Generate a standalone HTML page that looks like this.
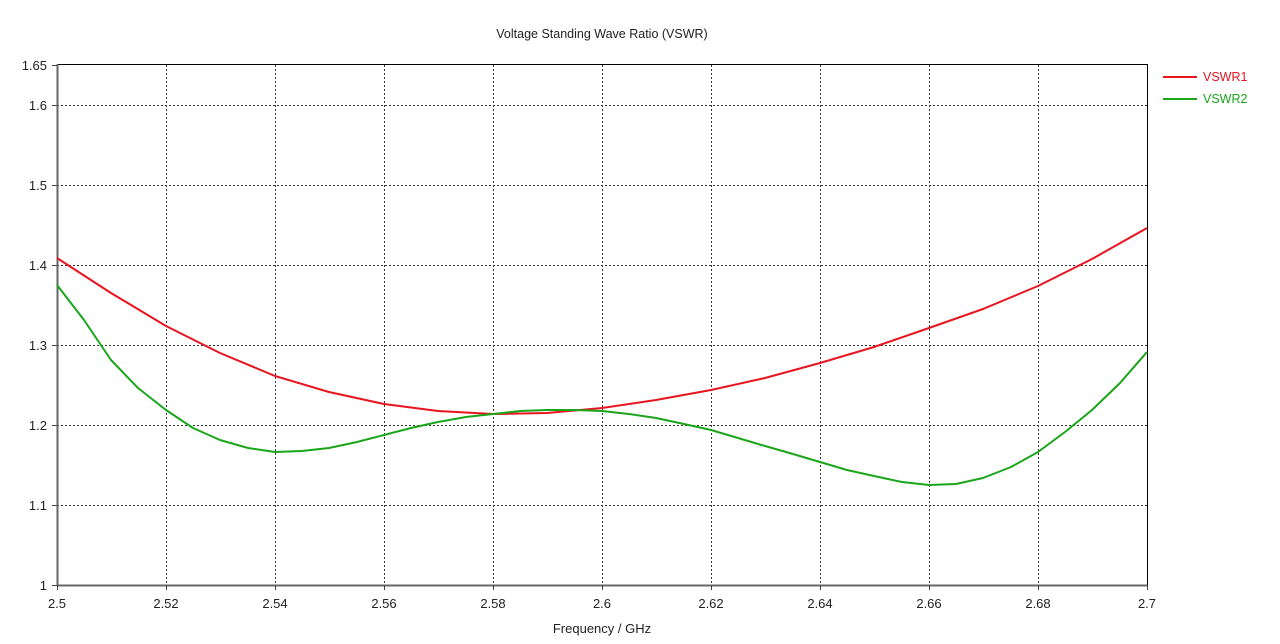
<!DOCTYPE html>
<html><head><meta charset="utf-8"><style>
body{margin:0;background:#fff;}
svg{display:block;font-family:"Liberation Sans","DejaVu Sans",sans-serif;}
</style></head><body>
<svg width="1280" height="644" viewBox="0 0 1280 644" xmlns="http://www.w3.org/2000/svg">
<rect width="1280" height="644" fill="#fff"/>
<text x="602" y="38" font-size="12.5" text-anchor="middle" fill="#222">Voltage Standing Wave Ratio (VSWR)</text>
<g stroke="#333" stroke-width="1" stroke-dasharray="2,2">
<line x1="166.5" y1="65" x2="166.5" y2="585"/><line x1="275.5" y1="65" x2="275.5" y2="585"/>
<line x1="384.5" y1="65" x2="384.5" y2="585"/><line x1="493.5" y1="65" x2="493.5" y2="585"/>
<line x1="602.5" y1="65" x2="602.5" y2="585"/><line x1="711.5" y1="65" x2="711.5" y2="585"/>
<line x1="820.5" y1="65" x2="820.5" y2="585"/><line x1="929.5" y1="65" x2="929.5" y2="585"/>
<line x1="1038.5" y1="65" x2="1038.5" y2="585"/>
<line x1="57" y1="105.5" x2="1147" y2="105.5"/><line x1="57" y1="185.5" x2="1147" y2="185.5"/>
<line x1="57" y1="265.5" x2="1147" y2="265.5"/><line x1="57" y1="345.5" x2="1147" y2="345.5"/>
<line x1="57" y1="425.5" x2="1147" y2="425.5"/><line x1="57" y1="505.5" x2="1147" y2="505.5"/>
</g>
<rect x="57.5" y="64.5" width="1090" height="521" fill="none" stroke="#000" stroke-width="1"/>
<line x1="57.5" y1="64" x2="57.5" y2="586" stroke="#666" stroke-width="2"/>
<line x1="57" y1="585.5" x2="1147" y2="585.5" stroke="#666" stroke-width="2"/>
<g stroke="#444" stroke-width="1">
<line x1="52" y1="65.5" x2="57" y2="65.5"/><line x1="52" y1="105.5" x2="57" y2="105.5"/><line x1="52" y1="185.5" x2="57" y2="185.5"/>
<line x1="52" y1="265.5" x2="57" y2="265.5"/><line x1="52" y1="345.5" x2="57" y2="345.5"/><line x1="52" y1="425.5" x2="57" y2="425.5"/>
<line x1="52" y1="505.5" x2="57" y2="505.5"/><line x1="52" y1="585.5" x2="57" y2="585.5"/>
<line x1="57.5" y1="585" x2="57.5" y2="590"/><line x1="166.5" y1="585" x2="166.5" y2="590"/><line x1="275.5" y1="585" x2="275.5" y2="590"/>
<line x1="384.5" y1="585" x2="384.5" y2="590"/><line x1="493.5" y1="585" x2="493.5" y2="590"/><line x1="602.5" y1="585" x2="602.5" y2="590"/>
<line x1="711.5" y1="585" x2="711.5" y2="590"/><line x1="820.5" y1="585" x2="820.5" y2="590"/><line x1="929.5" y1="585" x2="929.5" y2="590"/>
<line x1="1038.5" y1="585" x2="1038.5" y2="590"/><line x1="1147.5" y1="585" x2="1147.5" y2="590"/>
</g>
<g font-size="13" fill="#222" text-anchor="end">
<text x="47" y="70">1.65</text><text x="47" y="110">1.6</text><text x="47" y="190">1.5</text>
<text x="47" y="270">1.4</text><text x="47" y="350">1.3</text><text x="47" y="430">1.2</text>
<text x="47" y="510">1.1</text><text x="47" y="590">1</text>
</g>
<g font-size="13" fill="#222" text-anchor="middle">
<text x="57" y="608">2.5</text><text x="166" y="608">2.52</text><text x="275" y="608">2.54</text>
<text x="384" y="608">2.56</text><text x="493" y="608">2.58</text><text x="602" y="608">2.6</text>
<text x="711" y="608">2.62</text><text x="820" y="608">2.64</text><text x="929" y="608">2.66</text>
<text x="1038" y="608">2.68</text><text x="1147" y="608">2.7</text>
<text x="602" y="633">Frequency / GHz</text>
</g>
<polyline fill="none" stroke="#e8141e" stroke-width="2" stroke-linejoin="round" points="57,258 111,293 166,326 220,353 275,376 329,392 384,404 438,411 493,414 547,413 602,408 656,400 711,390 765,378 820,363 874,347 929,328 983,309 1038,286 1092,259 1147,228"/>
<polyline fill="none" stroke="#1aa51a" stroke-width="2" stroke-linejoin="round" points="57,285 84,320 111,360 138,388 166,410 193,428 220,440 248,448 275,452 302,451 329,448 357,442 384,435 411,428 438,422 466,417 493,414 520,411 547,410 575,410 602,411 629,414 656,418 684,424 711,430 738,438 765,446 793,454 820,462 847,470 874,476 902,482 929,485 956,484 983,478 1011,467 1038,452 1065,432 1092,410 1120,383 1147,352"/>
<line x1="1163" y1="77" x2="1197" y2="77" stroke="#e8141e" stroke-width="2"/>
<text x="1203" y="81" font-size="12.5" fill="#e8141e">VSWR1</text>
<line x1="1163" y1="99" x2="1197" y2="99" stroke="#1aa51a" stroke-width="2"/>
<text x="1203" y="103" font-size="12.5" fill="#1aa51a">VSWR2</text>
</svg>
</body></html>
